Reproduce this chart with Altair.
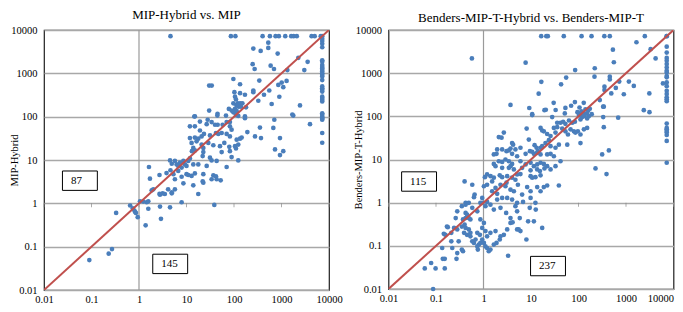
import altair as alt
import pandas as pd

# ---------------- data ----------------
# Left panel: x = MIP time, y = MIP-Hybrid time
left_points = [
    # time-limit row / column
    (4.6, 7200), (86, 7200), (107, 7200), (400, 7200), (570, 7200), (750, 7200), (880, 7200),
    (1200, 7200), (1600, 7200), (1800, 7200), (2100, 7200), (4300, 7200), (5000, 7200),
    (6700, 7200), (7200, 7200),
    (7200, 6300), (7200, 5600), (7200, 4800), (7200, 4000), (7200, 2000), (7200, 1850),
    (7200, 1550), (7200, 1400), (7200, 1300), (7200, 1200), (7200, 1100), (7200, 1000),
    (7200, 920), (7200, 840), (7200, 700), (7200, 500), (7200, 450), (7200, 420), (7200, 380),
    (7200, 290), (7200, 270), (7200, 245), (7200, 225), (7200, 120), (7200, 110), (7200, 100),
    (7200, 94), (7200, 89), (7200, 85), (7200, 42), (7200, 25),
    # upper region
    (527, 5090), (527, 3850), (255, 3720), (364, 3290), (830, 2860), (2260, 2280), (3550, 1840),
    (3020, 1190), (247, 1630), (272, 1260), (591, 1500), (695, 1260), (1330, 1190), (97, 740),
    (134, 560), (30, 522), (34, 522), (341, 680), (1010, 611), (1280, 668), (1090, 479),
    (857, 541), (102, 368), (134, 349), (170, 320), (255, 402), (255, 368), (325, 233),
    (428, 320), (553, 402), (621, 196), (900, 288), (2450, 182), (1690, 112), (105, 290),
    (110, 250), (97, 203), (120, 203), (135, 203), (150, 203), (112, 185), (125, 170),
    (140, 170), (78, 151), (89, 138), (105, 151), (114, 134), (179, 164), (97, 126), (110, 110),
    (123, 104), (30, 138), (45, 116), (15, 102), (170, 102),
    # middle region
    (14.6, 101), (19.2, 77), (27.9, 85), (33.8, 75), (44.6, 106), (67.8, 106), (82, 75),
    (170, 92), (706, 85), (1770, 106), (3980, 67),
    (11.8, 60), (15, 60), (19.2, 48), (26.6, 67), (39.8, 65), (45.3, 65), (57.7, 65), (70, 75),
    (82, 60), (89, 50),
    (11.8, 32), (15, 33), (17.7, 31), (20.8, 35), (23.3, 40), (31.2, 37), (41.7, 42), (46.8, 40),
    (55, 42), (70, 40), (82, 35), (114, 29.5), (134, 31), (145, 33), (191, 44), (277, 35),
    (352, 56), (370, 32), (673, 55), (929, 32),
    (12.8, 24.8), (13.9, 19), (16.3, 27), (20.8, 22.7), (22.6, 19), (28.8, 24.8), (36.7, 21.9),
    (50.7, 20.8), (62.5, 24.8), (79.6, 20.1), (105, 20.8), (110, 18.4), (123, 22.7),
    (13, 16), (15, 16.6), (22.6, 15.2), (21.9, 12.3), (31.2, 11.3), (33.8, 9.8), (43.1, 9.5),
    (55, 15.2), (82, 16), (89, 11.7), (123, 9.8), (70, 6.9), (730, 17.5), (929, 13), (1090, 16),
    (4.5, 9.8), (4.9, 8.2), (5.7, 9.5), (6.2, 7.9), (6.7, 7.3), (7.3, 8.7), (7.9, 6.7),
    (8.6, 9.5), (9.3, 7.9), (10, 7.3), (10.9, 9.5), (11.8, 10.9), (13.9, 7.9), (17.7, 7.9),
    (26.6, 7.3),
    (1.62, 6.9), (1.70, 3.7), (2.7, 4.5), (3.8, 5.0), (4.6, 5.8), (5.3, 4.7), (5.7, 3.6),
    (6.7, 5.6), (7.9, 4.1), (8.6, 2.9), (10, 4.7), (10.9, 4.5), (12.8, 4.3), (13.9, 2.6),
    (15, 4.9), (22.6, 4.7), (22.6, 3.0), (33.8, 3.6), (36.7, 4.4), (41.7, 4.2), (43.1, 3.6),
    (52.4, 3.4),
    (1.85, 2.0), (2.77, 1.58), (3.15, 1.7), (3.5, 1.64), (4.1, 2.1), (4.9, 1.7), (5.7, 2.1),
    (17.7, 1.64), (21.9, 3.2),
    (1.05, 1.11), (1.45, 1.06), (1.57, 1.11), (7.9, 1.06),
    # lower region
    (0.33, 0.60), (0.65, 0.89), (0.74, 0.77), (0.83, 0.63), (0.80, 0.68), (0.86, 0.60),
    (0.94, 0.48), (1.23, 1.1), (1.38, 0.31), (1.57, 0.75), (2.0, 2.1), (2.77, 0.84),
    (2.9, 0.44), (4.5, 0.81), (4.9, 1.8), (38.5, 0.92), (0.09, 0.049), (0.23, 0.069),
    (0.27, 0.088), (2.7, 1.65),
]

# Right panel: x = Benders-MIP-T time, y = Benders-MIP-T-Hybrid time
right_points = [
    (16.4, 7200), (21, 7200), (22.6, 7200), (49, 7200), (116, 7200), (188, 7200), (350, 7200),
    (456, 7200), (2490, 7200), (7200, 7200),
    (7200, 7200), (7200, 4100), (7200, 3000), (7200, 2250), (7200, 1950), (7200, 1630),
    (7200, 1360), (7200, 1140), (7200, 1040), (7200, 860), (7200, 800), (7200, 610), (7200, 500),
    (7200, 390), (7200, 330), (7200, 275), (7200, 250), (7200, 225), (7200, 68), (7200, 54),
    (7200, 50), (7200, 46), (7200, 42), (7200, 37), (7200, 27), (7200, 8.4),
    # upper region
    (0.57, 2200), (7.7, 1750), (85, 1180), (220, 1300), (217, 828), (456, 828), (456, 718),
    (720, 640), (1150, 640), (610, 455), (352, 486), (352, 406), (900, 325), (1460, 507),
    (3100, 340), (530, 3500), (555, 1790), (1660, 5200), (3300, 3600), (4200, 2200), (6000, 580),
    (490, 340),
    (16.5, 630), (43, 550), (55, 790), (14.5, 335), (3.7, 184), (9.2, 156), (10.6, 112),
    (19.2, 139), (30, 206), (33, 140), (53, 157), (70, 176), (84, 214), (129, 206), (173, 150),
    (330, 167), (2370, 139), (3120, 125), (20.5, 142), (51.5, 117), (281, 238), (341, 167),
    (105, 160), (115, 130), (125, 120), (140, 145), (160, 135), (110, 112), (150, 115), (95, 125),
    (190, 112),
    # middle region
    (10.6, 107), (27.9, 96), (35.6, 71), (41.8, 71), (47.5, 75), (53, 67), (63, 80), (74, 71),
    (84, 75), (102, 107), (110, 85), (119, 96), (130, 101), (152, 89), (165, 101), (331, 96),
    (684, 93),
    (8.1, 52), (15.9, 54), (17.2, 47), (18.6, 45), (21.9, 39), (25.8, 35), (32.8, 42),
    (30.3, 54), (35.6, 56), (45.3, 52), (53, 45), (60, 38), (68, 50), (80, 45), (86, 42),
    (97, 45), (110, 38), (130, 50), (152, 54),
    (2.1, 33), (2.4, 32), (2.68, 42), (4.0, 24), (4.2, 22), (4.7, 17.1), (6.0, 18.7), (9.0, 29),
    (11.9, 21.5), (13.1, 18.7), (13.9, 15.6), (15.9, 18.7), (17.2, 20.4), (20.2, 24),
    (23.8, 28), (25.8, 20.4), (32.8, 18.7), (38.6, 22), (58, 22), (110, 24), (341, 56),
    (1.94, 17.1), (2.47, 17.1), (3.05, 15.6), (3.42, 16.2), (3.7, 18), (4.0, 13.5), (5.1, 11.9),
    (7.7, 13.5), (9.5, 15.6), (10.6, 15.1), (11.5, 13.5), (13.5, 14.3), (15.9, 13.1),
    (21.9, 13.1), (25.8, 13.5), (30.3, 11.9), (32.8, 7.0), (41.8, 9.1), (436, 16.2), (315, 13.1),
    (1.65, 13.1), (1.88, 13.5), (2.1, 9.1), (2.47, 8.8), (2.9, 10), (3.42, 9.1), (4.0, 7.9),
    (6.0, 9.1), (7.7, 7.7), (9.8, 8.4), (11.5, 7.0), (13.5, 7.7), (15.9, 8.4), (18.6, 7.9),
    (21.9, 7.0),
    (1.65, 7.9), (1.79, 7.0), (2.47, 6.4), (3.42, 6.4), (3.7, 7.0), (4.36, 5.9), (6.5, 6.4),
    (9.8, 5.6), (13.5, 5.9), (15.4, 5.4), (19.2, 6.2), (25.8, 5.9), (228, 6.2), (389, 4.6),
    (1.07, 3.9), (1.19, 4.5), (1.41, 4.1), (1.65, 3.8), (2.2, 4.3), (2.47, 3.9), (3.15, 4.1),
    (4.0, 3.8), (4.7, 3.4), (5.1, 4.5), (6.0, 4.6), (9.8, 4.1), (10.6, 3.8), (12.4, 3.9),
    (15.9, 4.3), (21.9, 2.5), (38.6, 2.5),
    (0.40, 3.1), (0.58, 2.6), (0.65, 1.54), (1.02, 2.4), (1.19, 2.6), (1.52, 1.84), (1.79, 2.2),
    (2.28, 2.6), (2.9, 2.4), (3.7, 2.0), (4.36, 1.84), (5.3, 2.6), (6.5, 1.54), (8.3, 2.3),
    (9.8, 1.84), (13.5, 2.3), (15.9, 1.84), (18.6, 2.3), (1.52, 3.1), (3.05, 2.9), (1.94, 1.6),
    (0.42, 0.99), (0.94, 1.29), (1.19, 1.04), (1.94, 1.18), (2.47, 1.29), (3.15, 1.29),
    (4.0, 1.18), (5.1, 0.99), (6.8, 1.04), (9.8, 1.29), (12.4, 0.99), (0.63, 1.34), (0.86, 0.99),
    # lower region
    (0.058, 0.030), (0.079, 0.040), (0.098, 0.030), (0.153, 0.030), (0.139, 0.05), (0.153, 0.05),
    (0.087, 0.010), (0.135, 0.089), (0.22, 0.089), (0.21, 0.127), (0.146, 0.19), (0.158, 0.18),
    (0.21, 0.2), (0.177, 0.27), (0.26, 0.44), (0.24, 0.26), (0.28, 0.24), (0.30, 0.127),
    (0.28, 0.068), (0.27, 0.050), (0.35, 0.082), (0.37, 0.075), (0.35, 0.28), (0.39, 0.20),
    (0.40, 0.31), (0.42, 0.26), (0.45, 0.18), (0.49, 0.24), (0.53, 0.20), (0.37, 0.41),
    (0.42, 0.44), (0.49, 0.44), (0.53, 0.41), (0.42, 0.58), (0.45, 0.53), (0.58, 0.127),
    (0.63, 0.117), (0.68, 0.14), (0.74, 0.097), (0.76, 0.082), (0.80, 0.107), (0.86, 0.117),
    (0.94, 0.14), (1.02, 0.117), (1.1, 0.097), (1.19, 0.089), (1.29, 0.075), (1.40, 0.082),
    (1.65, 0.107), (1.88, 0.117), (2.2, 0.14), (0.53, 0.166), (0.74, 0.20), (0.84, 0.18),
    (0.94, 0.26), (1.1, 0.22), (1.02, 0.34), (0.86, 0.41), (1.19, 0.166), (1.40, 0.20),
    (1.79, 0.22), (2.28, 0.166), (2.68, 0.18), (3.15, 0.24), (3.7, 0.34), (5.1, 0.24),
    (6.0, 0.22), (3.3, 0.059), (8.0, 0.14), (11.5, 0.37), (17.2, 0.26), (8.7, 0.37),
    (0.28, 0.63), (0.35, 0.83), (0.42, 0.90), (0.49, 0.99), (0.58, 0.76), (0.74, 0.63),
    (0.94, 0.99), (1.1, 0.83), (1.40, 0.90), (1.65, 0.69), (2.28, 0.76), (3.0, 0.58),
    (3.7, 0.44), (4.7, 0.83), (5.1, 0.63), (9.4, 0.76), (12.6, 0.69), (5.5, 0.24), (4.1, 0.35),
    (5.8, 0.44), (0.17, 0.28),
]

left_counts = ["87", "145"]
left_count_x = [0.057, 4.54]
left_count_y = [3.33, 0.040]
right_counts = ["115", "237"]
right_count_x = [0.044, 22.8]
right_count_y = [3.09, 0.034]

tick_values = [0.01, 0.1, 1, 10, 100, 1000, 10000]
diag_values = [0.01, 10000]

SERIF = "Liberation Serif"
BLUE = "#4A7EBB"
RED = "#C0504D"
BOX = "M-1.8,-1L1.8,-1L1.8,1L-1.8,1Z"


def panel(points, labels, lx, ly, title, ytitle, h, title_offset, flush_last):
    pts = pd.DataFrame(points, columns=["x", "y"])
    diag = pd.DataFrame({"x": diag_values, "y": diag_values})
    one = pd.DataFrame({"x": [1]})
    axis_ticks = pd.DataFrame({"x": tick_values, "y": [1] * len(tick_values)})
    counts = pd.DataFrame({"x": lx, "y": ly, "label": labels})

    xs = alt.Scale(type="log", domain=[0.01, 10000], nice=False)
    ys = alt.Scale(type="log", domain=[0.01, 10000], nice=False)
    x_align = ({"condition": {"test": "datum.value >= 10000", "value": "right"}, "value": "center"}
               if flush_last else "center")
    xaxis = alt.Axis(values=tick_values, labelExpr="'' + datum.value", grid=False,
                     ticks=False, domain=False, labelFlush=False, labelOverlap=False,
                     labelAlign=x_align,
                     labelPadding=4.5, labelFont=SERIF, labelFontSize=10.5,
                     labelColor="#000", title=None)
    yaxis = alt.Axis(values=tick_values, labelExpr="'' + datum.value", grid=True,
                     gridColor="#A8A8A8", gridWidth=1.5, ticks=False, domain=False,
                     labelOverlap=False, labelPadding=7, labelFont=SERIF,
                     labelFontSize=10.5, labelColor="#000", title=ytitle,
                     titleFont=SERIF, titleFontSize=10.5, titleFontWeight="normal",
                     titleColor="#000", titleX=-25, titleY=h / 2)
    X = alt.X("x:Q", scale=xs, axis=xaxis)
    Y = alt.Y("y:Q", scale=ys, axis=yaxis)

    rule = alt.Chart(one).mark_rule(color="#9A9A9A", strokeWidth=1.2).encode(x=X)
    tk = alt.Chart(axis_ticks).mark_tick(orient="vertical", size=4, thickness=1,
                                         color="#8A8A8A", yOffset=2).encode(x=X, y=Y)
    dots = alt.Chart(pts).mark_circle(size=22, color=BLUE, opacity=1).encode(x=X, y=Y)
    line = alt.Chart(diag).mark_line(color=RED, strokeWidth=2, clip=True).encode(x=X, y=Y)
    boxes = alt.Chart(counts).mark_point(shape=BOX, size=376, fill="white", fillOpacity=1,
                                         stroke="black", strokeWidth=1, opacity=1
                                         ).encode(x=X, y=Y)
    texts = alt.Chart(counts).mark_text(font=SERIF, fontSize=11, color="black",
                                        align="left", dx=-9).encode(x=X, y=Y, text="label:N")
    return alt.layer(rule, tk, dots, line, boxes, texts).properties(
        width=285, height=h,
        title=alt.TitleParams(title, font=SERIF, fontSize=13, fontWeight="normal",
                              color="#000", offset=title_offset),
    )


left = panel(left_points, left_counts, left_count_x, left_count_y,
             "MIP-Hybrid vs. MIP", "MIP-Hybrid", 260, 3, False)
right = panel(right_points, right_counts, right_count_x, right_count_y,
              "Benders-MIP-T-Hybrid vs. Benders-MIP-T", "Benders-MIP-T-Hybrid", 259, 0.5, True)

chart = alt.hconcat(left, right, spacing=59.5, bounds="flush").properties(
    padding={"top": 0, "left": 0, "right": 0, "bottom": -2}
).configure_view(stroke="#1F1F1F", strokeWidth=1.2)

chart.save("out.html", embed_options={"renderer": "svg", "actions": False})
